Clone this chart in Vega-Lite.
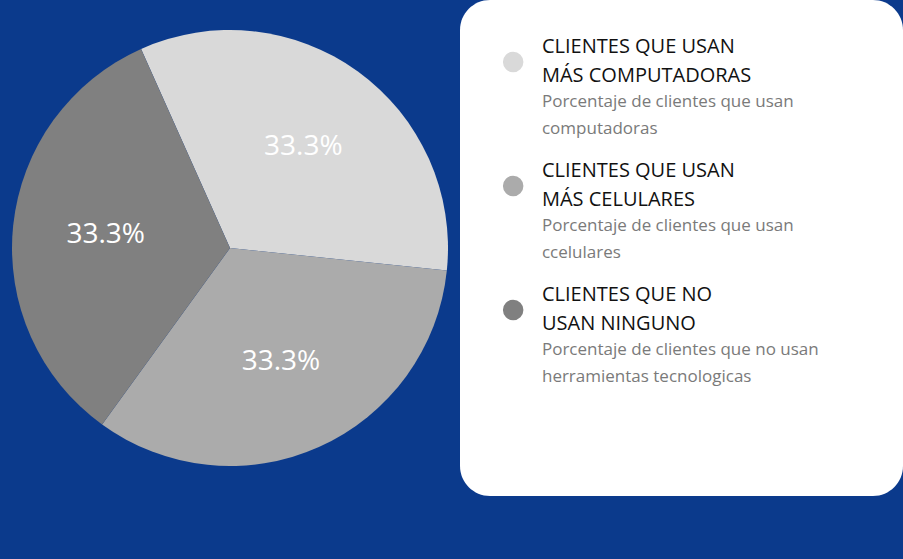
{
  "$schema": "https://vega.github.io/schema/vega-lite/v6.json",
  "background": "#0b3a8c",
  "padding": {"left": 0, "top": 0, "right": 0, "bottom": 63},
  "spacing": 0,
  "config": {"view": {"stroke": null}, "font": "Open Sans"},
  "datasets": {
    "d": [
      {"cat": "A", "value": 33.3, "label": "33.3%", "title": "CLIENTES QUE USAN\nMÁS COMPUTADORAS", "desc": "Porcentaje de clientes que usan\ncomputadoras"},
      {"cat": "B", "value": 33.3, "label": "33.3%", "title": "CLIENTES QUE USAN\nMÁS CELULARES", "desc": "Porcentaje de clientes que usan\nccelulares"},
      {"cat": "C", "value": 33.3, "label": "33.3%", "title": "CLIENTES QUE NO\nUSAN NINGUNO", "desc": "Porcentaje de clientes que no usan\nherramientas tecnologicas"}
    ]
  },
  "hconcat": [
    {
      "width": 460,
      "height": 496,
      "data": {"name": "d"},
      "encoding": {
        "theta": {"field": "value", "type": "quantitative", "stack": true, "scale": {"range": [-0.42, 5.863]}},
        "order": {"field": "cat"},
        "color": {"field": "cat", "type": "nominal", "legend": null,
          "scale": {"domain": ["A", "B", "C"], "range": ["#d9d9d9", "#ababab", "#808080"]}}
      },
      "layer": [
        {"mark": {"type": "arc", "outerRadius": 218}},
        {"mark": {"type": "text", "radius": 125, "fill": "white", "fontSize": 28, "font": "Open Sans"},
          "encoding": {"text": {"field": "label"}, "color": {"value": "white"}}}
      ]
    },
    {
      "width": 443,
      "height": 496,
      "view": {"fill": "white", "cornerRadius": 30},
      "data": {"name": "d"},
      "encoding": {
        "y": {"field": "cat", "type": "nominal", "axis": null,
          "scale": {"type": "band", "domain": ["A", "B", "C"], "paddingInner": 0, "paddingOuter": 0.5, "align": 0}}
      },
      "layer": [
        {"mark": {"type": "point", "filled": true, "size": 420, "opacity": 1},
          "encoding": {"x": {"datum": 12, "type": "quantitative", "scale": {"domain": [0, 100]}, "axis": null},
            "color": {"field": "cat", "type": "nominal", "legend": null,
              "scale": {"domain": ["A", "B", "C"], "range": ["#d9d9d9", "#ababab", "#808080"]}}}},
        {"mark": {"type": "text", "align": "left", "baseline": "top", "dy": -25, "fontSize": 20, "lineHeight": 29, "lineBreak": "\n", "fill": "#111111", "font": "Open Sans"},
          "encoding": {"x": {"datum": 18.5, "type": "quantitative"}, "text": {"field": "title"}}},
        {"mark": {"type": "text", "align": "left", "baseline": "top", "dy": 32, "fontSize": 17, "lineHeight": 27, "lineBreak": "\n", "fill": "#7a7a7a", "font": "Open Sans"},
          "encoding": {"x": {"datum": 18.5, "type": "quantitative"}, "text": {"field": "desc"}}}
      ]
    }
  ]
}
